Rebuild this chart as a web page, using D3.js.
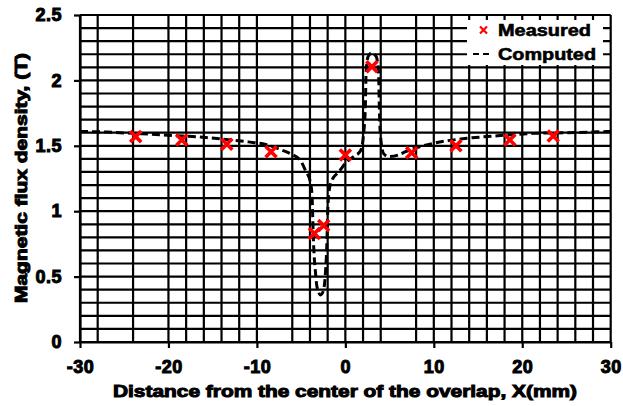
<!DOCTYPE html>
<html>
<head>
<meta charset="utf-8">
<script src="https://cdn.jsdelivr.net/npm/d3@7"></script>
<style>
	body { margin: 0; background: #fff; }
	svg { display: block; font-family: 'Liberation Sans', Arial, sans-serif; font-weight: bold; }
</style>
</head>
<body>
<div id="chart"></div>
<script>
'use strict';

// measured points (red crosses)
var measuredX = [-23.7, -18.5, -13.4, -8.4, -3.5, -2.45, 0, 3.0, 7.5, 12.5, 18.6, 23.5];
var measuredY = [1.57, 1.545, 1.512, 1.455, 0.83, 0.89, 1.43, 2.105, 1.447, 1.50, 1.545, 1.575];

// computed curve (dashed)
var computedX = [-30, -27, -24, -21, -18.5, -16, -13.5, -11, -9, -7.3, -6.2, -5.1, -4.5, -3.95, -3.76,
	-3.7, -3.58, -3.4, -3.2, -2.8, -2.45, -2.26, -2.1, -2.0, -1.85, -1.5, -0.75, 0.2, 1.0, 1.7,
	2.07, 2.26, 2.34, 2.56, 3.0, 3.5, 3.76, 3.84, 3.95, 4.33, 4.9, 6.0, 6.8, 10, 13.75, 17.5,
	21.3, 25, 30];
var computedY = [1.61, 1.605, 1.595, 1.585, 1.575, 1.565, 1.548, 1.53, 1.51, 1.47, 1.44, 1.39, 1.31, 1.22, 1.12,
	0.98, 0.73, 0.55, 0.42, 0.36, 0.40, 0.52, 0.73, 0.98, 1.15, 1.24, 1.30, 1.38, 1.42, 1.46,
	1.595, 1.80, 2.05, 2.18, 2.21, 2.18, 2.05, 1.80, 1.595, 1.44, 1.417, 1.43, 1.455, 1.52, 1.557, 1.578,
	1.595, 1.60, 1.61];

// axis ticks and grid
var xTicks = [-30, -20, -10, 0, 10, 20, 30];
var yTicks = [0, 0.5, 1, 1.5, 2, 2.5];
var xGrid = [-30, -28, -24, -20, -18, -16, -14, -12, -10, -6, -4, -2, 0, 2, 4, 8, 10, 12, 14, 16, 18,
	20, 22, 24, 26, 28, 30];
var yGrid = [0, 0.1, 0.2, 0.3, 0.4, 0.5, 0.6, 0.7, 0.8, 0.9, 1, 1.1, 1.2, 1.3, 1.4, 1.5, 1.6, 1.7,
	1.8, 1.9, 2, 2.1, 2.2, 2.3, 2.4, 2.5];

var legendLabels = ['Measured', 'Computed'];
var xTitle = 'Distance from the center of the overlap, X(mm)';
var yTitle = 'Magnetic flux density, (T)';

var W = 623, H = 406;
var plot = { left: 80, right: 610.7, top: 15, bottom: 342 };

var svg = d3.select('#chart').append('svg')
	.attr('width', W)
	.attr('height', H);

var x = d3.scaleLinear().domain([-30, 30]).range([plot.left, plot.right]);
var y = d3.scaleLinear().domain([0, 2.5]).range([plot.bottom, plot.top]);

// grid
svg.append('g').selectAll('line')
	.data(xGrid)
	.enter()
	.append('line')
	.attr('x1', function(d){ return x(d); })
	.attr('x2', function(d){ return x(d); })
	.attr('y1', plot.top)
	.attr('y2', plot.bottom)
	.attr('stroke', '#000')
	.attr('stroke-width', 2.2);

svg.append('g').selectAll('line')
	.data(yGrid)
	.enter()
	.append('line')
	.attr('x1', plot.left)
	.attr('x2', plot.right)
	.attr('y1', function(d){ return y(d); })
	.attr('y2', function(d){ return y(d); })
	.attr('stroke', '#000')
	.attr('stroke-width', 2.2);

// axes
var xAxis = svg.append('g')
	.attr('transform', 'translate(0,' + plot.bottom + ')')
	.call(d3.axisBottom(x).tickValues(xTicks).tickSize(6).tickSizeOuter(0).tickPadding(10)
		.tickFormat(function(d){ return String(d); }));

var yAxis = svg.append('g')
	.attr('transform', 'translate(' + plot.left + ',0)')
	.call(d3.axisLeft(y).tickValues(yTicks).tickSize(6).tickSizeOuter(0).tickPadding(12)
		.tickFormat(function(d){ return String(d); }));

[xAxis, yAxis].forEach(function(a){
	a.select('.domain').attr('stroke', '#000').attr('stroke-width', 2.2);
	a.selectAll('.tick line').attr('stroke', '#000').attr('stroke-width', 2.2);
	a.selectAll('.tick text')
		.attr('fill', '#000')
		.attr('stroke', '#000')
		.attr('stroke-width', 1)
		.style('font-size', '18px')
		.style('font-weight', 'bold')
		.style('font-family', "'Liberation Sans', Arial, sans-serif")
		.style('letter-spacing', '0.5px');
});
xAxis.selectAll('.tick text').attr('dy', '0.85em');

// computed curve
var pts = computedX.map(function(d, i){ return [d, computedY[i]]; });
var line = d3.line()
	.x(function(d){ return x(d[0]); })
	.y(function(d){ return y(d[1]); })
	.curve(d3.curveMonotoneX);

svg.append('path')
	.datum(pts)
	.attr('d', line)
	.attr('fill', 'none')
	.attr('stroke', '#000')
	.attr('stroke-width', 3)
	.attr('stroke-dasharray', '8,4');

// measured crosses
var cross = function(g, cx, cy, r, sw){
	g.append('path')
		.attr('d', 'M' + (cx - r) + ',' + (cy - r) + 'L' + (cx + r) + ',' + (cy + r) +
			'M' + (cx - r) + ',' + (cy + r) + 'L' + (cx + r) + ',' + (cy - r))
		.attr('stroke', '#ff0000')
		.attr('stroke-width', sw)
		.attr('fill', 'none');
};
var marks = svg.append('g');
measuredX.forEach(function(d, i){
	cross(marks, x(d), y(measuredY[i]), 5.5, 3.6);
});

// legend
var lg = svg.append('g');
lg.append('rect')
	.attr('x', 467)
	.attr('y', 20)
	.attr('width', 136)
	.attr('height', 45)
	.attr('fill', '#fff');
cross(lg, 483.5, 30, 3.5, 2.2);
lg.append('line')
	.attr('x1', 473)
	.attr('x2', 493)
	.attr('y1', 54)
	.attr('y2', 54)
	.attr('stroke', '#000')
	.attr('stroke-width', 2)
	.attr('stroke-dasharray', '6,4');
lg.selectAll('text')
	.data(legendLabels)
	.enter()
	.append('text')
	.attr('x', 498)
	.attr('y', function(d, i){ return 36 + i * 24; })
	.attr('textLength', function(d, i){ return i === 0 ? 93 : 98; })
	.attr('lengthAdjust', 'spacingAndGlyphs')
	.attr('stroke', '#000')
	.attr('stroke-width', 0.6)
	.style('font-size', '17px')
	.text(function(d){ return d; });

// axis titles
svg.append('text')
	.attr('x', 345)
	.attr('y', 397)
	.attr('text-anchor', 'middle')
	.attr('textLength', 464)
	.attr('lengthAdjust', 'spacingAndGlyphs')
	.attr('stroke', '#000')
	.attr('stroke-width', 1)
	.style('font-size', '17px')
	.text(xTitle);

svg.append('text')
	.attr('transform', 'translate(27,178) rotate(-90)')
	.attr('text-anchor', 'middle')
	.attr('textLength', 250)
	.attr('lengthAdjust', 'spacingAndGlyphs')
	.attr('stroke', '#000')
	.attr('stroke-width', 1)
	.style('font-size', '17px')
	.text(yTitle);
</script>
</body>
</html>
